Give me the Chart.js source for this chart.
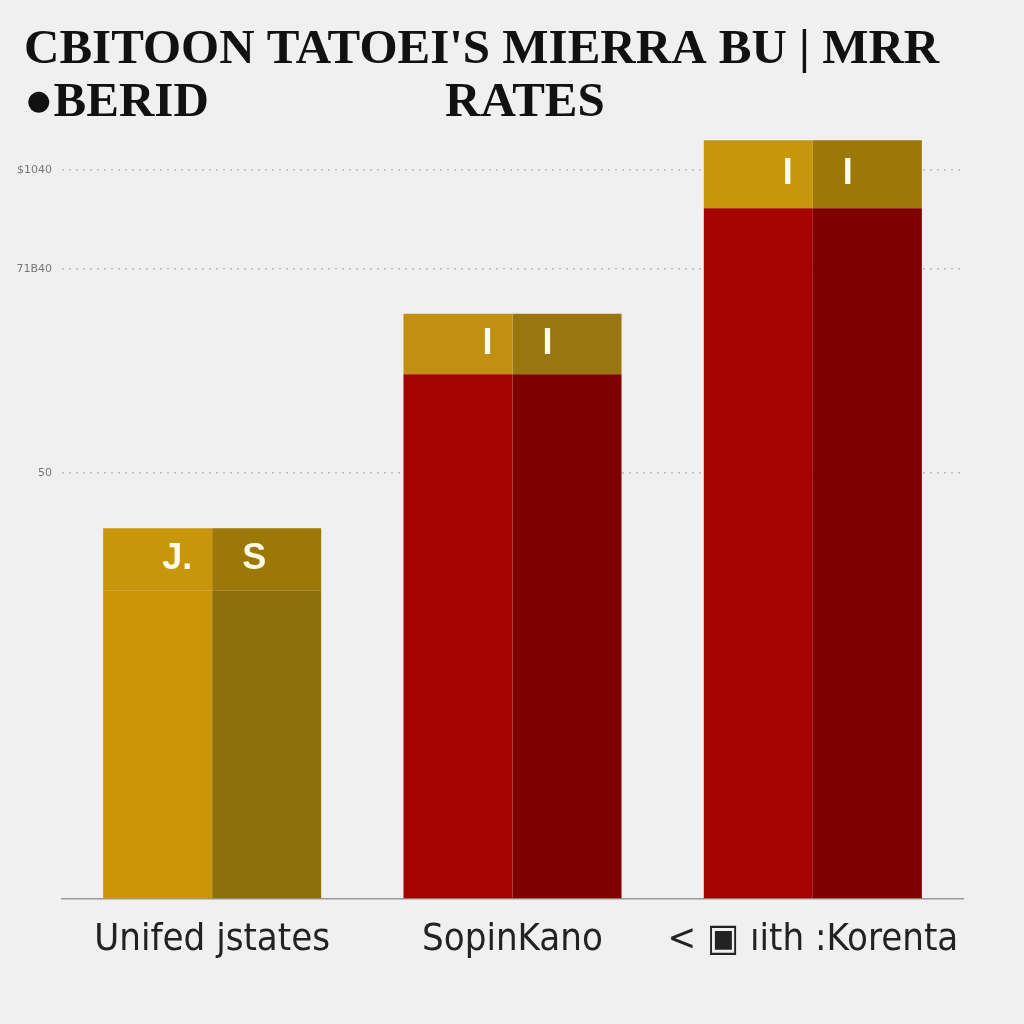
<!DOCTYPE html>
<html>
<head>
<meta charset="utf-8">
<script src="https://cdn.jsdelivr.net/npm/chart.js"></script>
<style>
  html, body { margin: 0; padding: 0; background: #f0f0f0; }
  #wrap { width: 1024px; height: 1024px; }
</style>
</head>
<body>
<div id="wrap"><canvas id="chart" width="1024" height="1024"></canvas></div>
<script>
// categories and values
const categories = ['Unifed jstates', 'SopinKano', '< \u25A3 ıith :Korenta'];
const bodyValues = [36.2, 61.6, 81.1];
const capValues = [7.3, 7.1, 8.0];
const capLabelsLeft = ['J.', 'I', 'I'];
const capLabelsRight = ['S', 'I', 'I'];

// y axis ticks
const yTickValues = [50, 74, 85.6];
const yTickLabels = ['50', '71B40', '$1040'];

const titleLine1 = "CBITOON TATOEI'S MIERRA BU | MRR";
const titleLine2a = '\u25CFBERID';
const titleLine2b = 'RATES';

const leftBodyColors = ['#cc9408', '#a50202', '#a50202'];
const rightBodyColors = ['#8e700a', '#7e0000', '#7e0000'];
const leftCapColors = ['#c8960a', '#c29010', '#c8960a'];
const rightCapColors = ['#9c7808', '#9a7610', '#9c7808'];

// title drawn at fixed spots
const titlePlugin = {
    id: 'titleText',
    afterDraw(chart) {
        const ctx = chart.ctx;
        ctx.save();
        ctx.fillStyle = '#111';
        ctx.font = 'bold 49px "Liberation Serif", serif';
        ctx.textBaseline = 'alphabetic';
        ctx.textAlign = 'left';
        ctx.fillText(titleLine1, 24, 63, 925);
        ctx.fillText(titleLine2a, 24, 116);
        ctx.fillText(titleLine2b, 445, 116);
        ctx.restore();
    }
};

// labels inside the gold caps
const capLabelPlugin = {
    id: 'capLabels',
    afterDatasetsDraw(chart) {
        const ctx = chart.ctx;
        ctx.save();
        ctx.fillStyle = '#fffbe8';
        ctx.font = 'bold 36px "Liberation Sans", sans-serif';
        ctx.textBaseline = 'middle';
        const leftMeta = chart.getDatasetMeta(1);
        const rightMeta = chart.getDatasetMeta(3);
        leftMeta.data.forEach(function (bar, i) {
            const p = bar.getProps(['x', 'y', 'base', 'width'], true);
            ctx.textAlign = 'right';
            ctx.fillText(capLabelsLeft[i], p.x + p.width / 2 - 20, (p.y + p.base) / 2);
        });
        rightMeta.data.forEach(function (bar, i) {
            const p = bar.getProps(['x', 'y', 'base', 'width'], true);
            ctx.textAlign = 'left';
            ctx.fillText(capLabelsRight[i], p.x - p.width / 2 + 30, (p.y + p.base) / 2);
        });
        ctx.restore();
    }
};

const ctx = document.getElementById('chart').getContext('2d');
const chart = new Chart(ctx, {
    type: 'bar',
    data: {
        labels: categories,
        datasets: [
            { data: bodyValues, backgroundColor: leftBodyColors, stack: 'left', borderWidth: 0 },
            { data: capValues, backgroundColor: leftCapColors, stack: 'left', borderWidth: 0 },
            { data: bodyValues, backgroundColor: rightBodyColors, stack: 'right', borderWidth: 0 },
            { data: capValues, backgroundColor: rightCapColors, stack: 'right', borderWidth: 0 }
        ]
    },
    options: {
        responsive: false,
        animation: false,
        devicePixelRatio: 1,
        categoryPercentage: 0.726,
        barPercentage: 1.0,
        layout: { padding: { top: 130, right: 61, bottom: 50, left: 0 } },
        plugins: {
            legend: { display: false },
            title: { display: false },
            tooltip: { enabled: false }
        },
        scales: {
            x: {
                stacked: true,
                grid: { display: false },
                border: { display: true, color: '#9a9a9a', width: 1.5 },
                ticks: {
                    color: '#222',
                    padding: 11,
                    maxRotation: 0,
                    font: { family: '"DejaVu Sans Condensed", "Liberation Sans Narrow", "Noto Sans", sans-serif', size: 38 }
                }
            },
            y: {
                stacked: true,
                min: 0,
                max: 90.3,
                afterBuildTicks: function (scale) {
                    scale.ticks = yTickValues.map(function (v) { return { value: v }; });
                },
                afterFit: function (scale) {
                    scale.width = 62;
                },
                border: { display: false },
                grid: {
                    color: '#bdbdbd',
                    lineWidth: 1.5,
                    drawTicks: false
                },
                ticks: {
                    color: '#777',
                    padding: 10,
                    font: { family: '"DejaVu Sans", sans-serif', size: 11 },
                    callback: function (value, index) {
                        return yTickLabels[index];
                    }
                }
            }
        }
    },
    plugins: [titlePlugin, capLabelPlugin]
});
// dotted grid lines
chart.options.scales.y.border.dash = [2, 5];
chart.update();
</script>
</body>
</html>
